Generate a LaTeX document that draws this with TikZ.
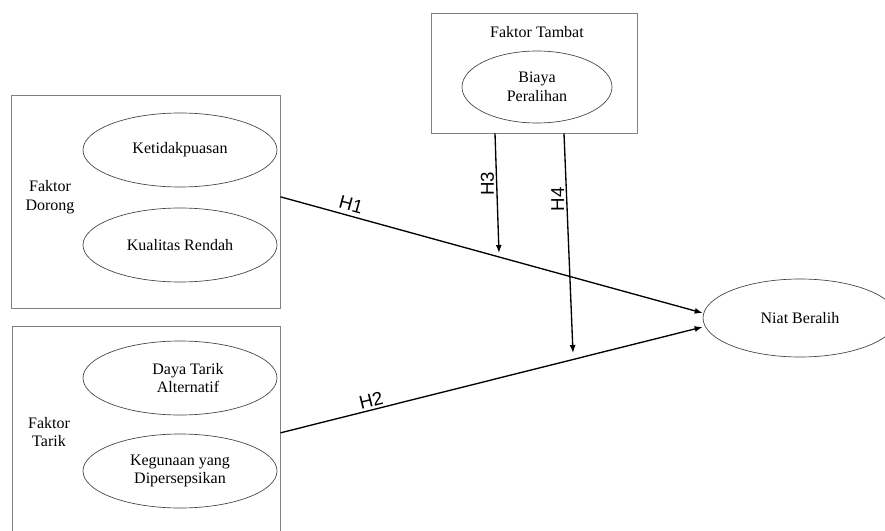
\documentclass[tikz,border=0pt]{standalone}
\usepackage{fontspec}
\setmainfont{Liberation Serif}
\newfontfamily\hypfont{Liberation Sans}
\usetikzlibrary{positioning}
\usetikzlibrary{shapes}
\usetikzlibrary{arrows.meta}

\begin{document}
\begin{tikzpicture}[
  x=0.75pt, y=-0.75pt,
  font=\fontsize{12}{14}\selectfont,
  factorbox/.style={draw=gray, line width=0.7pt, rectangle, inner sep=0pt},
  varnode/.style={draw=black!75, ellipse, line width=0.5pt, inner sep=0pt, minimum width=145.5pt, minimum height=55.5pt, align=center},
  hyparrow/.style={-{Latex[length=6pt,width=4.5pt]}, line width=1pt},
  hyplabel/.style={font=\hypfont\fontsize{14}{16}\selectfont, inner sep=1.5pt}
]
\clip (0,0) rectangle (885,531);

% Left side: push and pull factor boxes
\node[factorbox, minimum width=201.75pt, minimum height=159.75pt] (dorong) at (145.5,201.5) {};
\node[align=center] (dorongtxt) at (50,197) {Faktor\\Dorong};
\node[varnode] (ket) at (180,150) {Ketidakpuasan};
\node[varnode] (kual) at (180,245) {Kualitas Rendah};

\node[factorbox, minimum width=201pt, minimum height=164.25pt] (tarik) at (146,435.5) {};
\node[align=center] (tariktxt) at (49,432) {Faktor\\Tarik};
\node[varnode] (daya) at (180,378) {\hspace*{12pt}Daya Tarik\\\hspace*{12pt}Alternatif};
\node[varnode] (guna) at (180,471) {Kegunaan yang\\Dipersepsikan};

% Top: mooring factor
\node[factorbox, minimum width=154.5pt, minimum height=90pt] (tambat) at (534,73) {};
\node (tambattxt) at (537,32) {Faktor Tambat};
\node[varnode, minimum width=112.5pt, minimum height=54pt] (biaya) at (537,87) {Biaya\\Peralihan};

% Right: outcome
\node[varnode, minimum height=58.5pt] (niat) at (800,318) {Niat Beralih};

% Arrows
\coordinate (h3tip) at (499,253);
\coordinate (h4tip) at (573,353);

\draw[hyparrow] ([yshift=3.5pt]dorong.east) -- node[hyplabel, sloped, above=1.5pt, pos=0.16] {H1} ([yshift=3.75pt]niat.west);
\draw[hyparrow] ([yshift=2pt]tarik.east) -- node[hyplabel, sloped, above, pos=0.22] {H2} ([yshift=-6.75pt]niat.west);
\draw[hyparrow] ([xshift=-29.25pt]tambat.south) -- node[hyplabel, rotate=90, anchor=south, pos=0.42] {H3} (h3tip);
\draw[hyparrow] ([xshift=22.5pt]tambat.south) -- node[hyplabel, rotate=90, anchor=south, pos=0.3] {H4} (h4tip);

\end{tikzpicture}
\end{document}
